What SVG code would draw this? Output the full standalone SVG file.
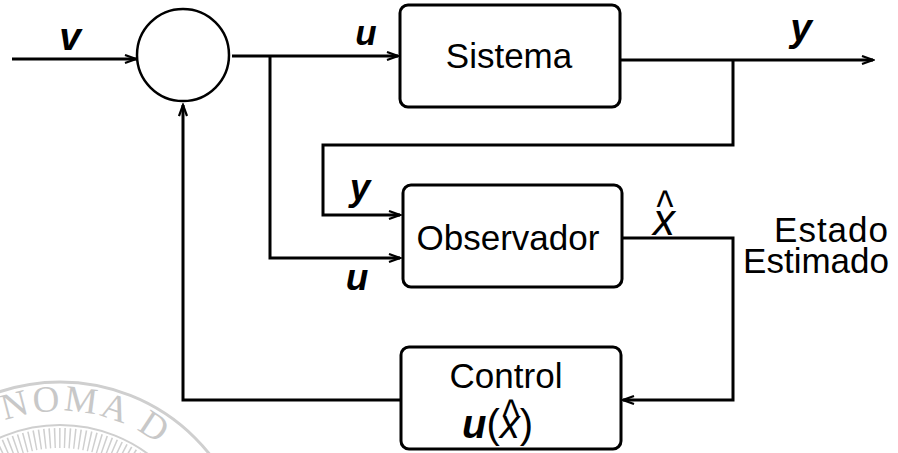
<svg xmlns="http://www.w3.org/2000/svg" width="898" height="453" viewBox="0 0 898 453">
<style>
.box{fill:#fff;stroke:#000;stroke-width:3}
.ln{fill:none;stroke:#000;stroke-width:3}
.lbl{font-family:"Liberation Sans",Arial,sans-serif;font-size:35px;fill:#000;text-anchor:middle}
.var{font-family:"Liberation Sans",Arial,sans-serif;font-style:italic;font-weight:bold;fill:#000;text-anchor:middle}
.hat{font-family:"Liberation Sans",Arial,sans-serif;font-size:36px;fill:#000;text-anchor:middle}
.wm{fill:none;stroke:#cfcfcf}
</style>
<defs>
<marker id="arr" markerUnits="userSpaceOnUse" markerWidth="14" markerHeight="12" refX="12" refY="5" orient="auto">
<path d="M1,1 L12,5 L1,9" fill="none" stroke="#000" stroke-width="2.2"/>
</marker>
<path id="wmPath" d="M -102,573 A162,162 0 0,1 222,573"/>
</defs>
<rect width="898" height="453" fill="#fff"/>
<g id="watermark">
<circle class="wm" cx="60" cy="573" r="191" stroke-width="3"/>
<circle class="wm" cx="60" cy="573" r="148" stroke-width="2"/>
<circle class="wm" cx="60" cy="573" r="135" stroke-width="20" stroke-dasharray="1.5 3.5"/>
<text font-family="Liberation Serif,serif" font-size="37" fill="#c8c8c8" letter-spacing="3"><textPath href="#wmPath" startOffset="198">NOMA D</textPath></text>
</g>
<g id="connectors">
<path class="ln" d="M12,59 H136" marker-end="url(#arr)"/>
<path class="ln" d="M232,56 H398" marker-end="url(#arr)"/>
<path class="ln" d="M270,56 V258 H400" marker-end="url(#arr)"/>
<path class="ln" d="M620,60 H873" marker-end="url(#arr)"/>
<path class="ln" d="M733,60 V145 H323 V215 H400" marker-end="url(#arr)"/>
<path class="ln" d="M622,238 H733 V400 H623" marker-end="url(#arr)"/>
<path class="ln" d="M401,400 H183 V105" marker-end="url(#arr)"/>
</g>
<g id="sum">
<circle cx="183" cy="55" r="46" fill="#fff" stroke="#000" stroke-width="2.5"/>
</g>
<g id="sistema">
<rect class="box" x="400" y="5" width="220" height="102" rx="8"/>
<text class="lbl" x="509" y="68">Sistema</text>
</g>
<g id="observador">
<rect class="box" x="403" y="185" width="219" height="102" rx="8"/>
<text class="lbl" x="508" y="250">Observador</text>
</g>
<g id="control">
<rect class="box" x="401" y="347" width="220" height="102" rx="8"/>
<text class="lbl" x="506" y="388">Control</text>
<text font-family="Liberation Sans,Arial,sans-serif" font-size="40" x="462" y="438"><tspan font-weight="bold" font-style="italic">u</tspan>(<tspan font-style="italic">x</tspan>)</text>
<text class="hat" transform="translate(511,431) scale(1,1.3)">^</text>
</g>
<g id="labels">
<text class="var" font-size="39" x="70" y="50">v</text>
<text class="var" font-size="35" x="366" y="45">u</text>
<text class="var" font-size="39" x="801" y="41">y</text>
<text class="var" font-size="37" x="360" y="200">y</text>
<text class="var" font-size="37" x="357" y="290">u</text>
<text font-family="Liberation Sans,Arial,sans-serif" font-size="44" font-style="italic" fill="#000" text-anchor="middle" x="664" y="235">x</text>
<text class="hat" transform="translate(665,222) scale(1,1.3)">^</text>
<text class="lbl" font-size="38" x="889" y="242" letter-spacing="1" style="text-anchor:end">Estado</text>
<text class="lbl" font-size="35.5" x="889" y="273" style="text-anchor:end">Estimado</text>
</g>
</svg>
